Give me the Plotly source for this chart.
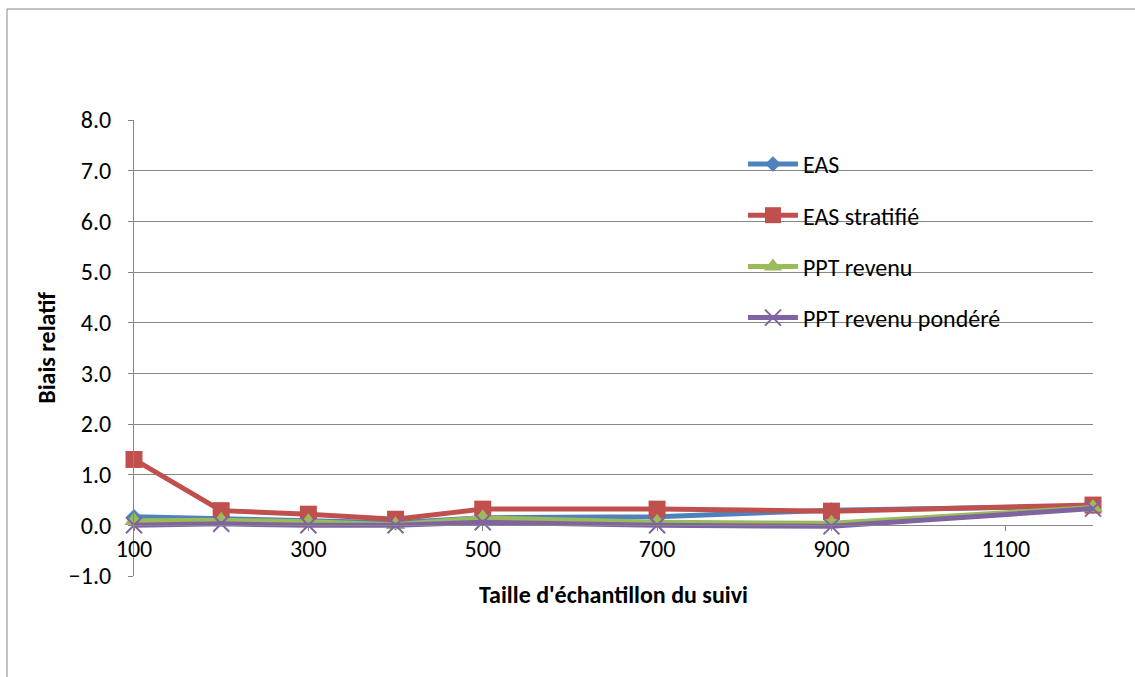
import plotly.graph_objects as go

# Sample sizes of the follow-up survey
taille = [100, 200, 300, 400, 500, 700, 900, 1200]

# Relative bias for each sampling design
eas = [0.17, 0.13, 0.10, 0.05, 0.15, 0.17, 0.30, 0.38]
eas_stratifie = [1.30, 0.29, 0.22, 0.12, 0.32, 0.32, 0.28, 0.40]
ppt_revenu = [0.09, 0.10, 0.07, 0.01, 0.15, 0.06, 0.04, 0.35]
ppt_revenu_pondere = [0.00, 0.03, 0.00, 0.00, 0.06, 0.00, -0.02, 0.33]

noms = ["EAS", "EAS stratifié", "PPT revenu", "PPT revenu pondéré"]
couleurs = ["#4F81BD", "#C0504D", "#9BBB59", "#8064A2"]

x_ticks = [100, 300, 500, 700, 900, 1100]
y_ticks = [-1, 0, 1, 2, 3, 4, 5, 6, 7, 8]

FONT = "Calibri, Carlito, Lato, sans-serif"
TAILLE_POLICE = 24
GRIS = "#868686"

fig = go.Figure()

series = [eas, eas_stratifie, ppt_revenu, ppt_revenu_pondere]
marqueurs = [
    dict(symbol="diamond", size=12, color=couleurs[0]),
    dict(symbol="square", size=17, color=couleurs[1]),
    dict(symbol="triangle-up", size=17, color=couleurs[2]),
    dict(symbol="x-thin", size=16, color=couleurs[3],
         line=dict(width=2, color=couleurs[3])),
]

for i, (nom, ys) in enumerate(zip(noms, series)):
    fig.add_trace(go.Scatter(
        x=taille, y=ys, name=nom, mode="lines+markers",
        line=dict(color=couleurs[i], width=5),
        marker=marqueurs[i],
        legendgroup=nom,
        cliponaxis=False,
    ))

fig.update_layout(
    width=1135, height=677,
    margin=dict(l=134, r=42, t=120, b=101),
    paper_bgcolor="white", plot_bgcolor="white",
    font=dict(family=FONT, size=TAILLE_POLICE, color="black"),
    showlegend=True,
    legend=dict(
        x=0.635, y=0.952, xanchor="left", yanchor="top",
        bgcolor="rgba(0,0,0,0)", tracegroupgap=17,
        font=dict(family=FONT, size=TAILLE_POLICE, color="black"),
        itemwidth=50,
    ),
    xaxis=dict(
        range=[100, 1200], tickvals=x_ticks,
        showgrid=False, zeroline=False,
        showline=True, linecolor=GRIS, linewidth=1,
        ticks="outside", ticklen=5, tickcolor=GRIS,
        anchor="free", position=1 / 9,
        ticklabelstandoff=-3,
        title=dict(text="<b>Taille d'échantillon du suivi</b>", standoff=24,
                   font=dict(family=FONT, size=TAILLE_POLICE)),
    ),
    yaxis=dict(
        range=[-1, 8], tickvals=y_ticks, tickformat=".1f",
        showgrid=True, gridcolor=GRIS, gridwidth=1,
        zeroline=False,
        showline=True, linecolor=GRIS, linewidth=1,
        ticks="outside", ticklen=5, tickcolor=GRIS,
        ticklabelstandoff=12,
        title=dict(text="<b>Biais relatif</b>", standoff=6,
                   font=dict(family=FONT, size=TAILLE_POLICE)),
    ),
)

# Chart frame
fig.add_shape(type="line", xref="paper", yref="paper",
              x0=-0.1324, x1=1.2, y0=1.2434, y1=1.2434,
              line=dict(color=GRIS, width=1))
fig.add_shape(type="line", xref="paper", yref="paper",
              x0=-0.1324, x1=-0.1324, y0=1.2434, y1=-0.4,
              line=dict(color=GRIS, width=1))

fig.write_html("out.html")
